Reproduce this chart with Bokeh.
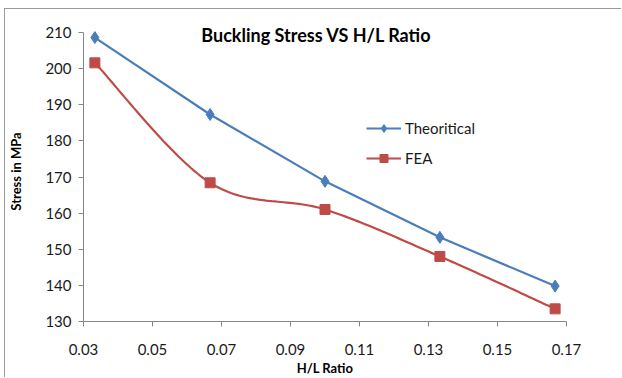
import numpy as np
from bokeh.plotting import figure
from bokeh.models import Range1d, Label, Legend, LegendItem, FixedTicker
from bokeh.embed import file_html
from bokeh.resources import INLINE

# ---- data ----
hl_ratio = [0.0333, 0.0667, 0.1000, 0.1333, 0.1667]
theoretical = [208.6, 187.3, 168.8, 153.3, 139.8]
fea = [201.6, 168.4, 161.0, 148.0, 133.5]
x_ticks = [0.03, 0.05, 0.07, 0.09, 0.11, 0.13, 0.15, 0.17]
y_ticks = [130, 140, 150, 160, 170, 180, 190, 200, 210]

title_text = "Buckling Stress VS H/L Ratio"
x_label = "H/L Ratio"
y_label = "Stress in MPa"

FONT = "Lato"
BLUE = "#4A7EBB"
RED = "#BE4B48"
AXIS = "#868686"

PX_PER_UNIT = 289 / 80.0  # vertical scale of the reference
FRAME_H = 300
Y_TOP = y_ticks[0] + FRAME_H / PX_PER_UNIT  # room above 210 for the title


def excel_smooth(xs, ys, n=40):
    """Excel-style smoothed line (Bezier with 1/6 tangents) through the points."""
    px = np.asarray(xs, float)
    py = np.asarray(ys, float)
    outx, outy = [], []
    m = len(px)
    for i in range(m - 1):
        i0 = max(i - 1, 0)
        i3 = min(i + 2, m - 1)
        b0 = np.array([px[i], py[i]])
        b3 = np.array([px[i + 1], py[i + 1]])
        b1 = b0 + (np.array([px[i + 1], py[i + 1]]) - np.array([px[i0], py[i0]])) / 6.0
        b2 = b3 - (np.array([px[i3], py[i3]]) - np.array([px[i], py[i]])) / 6.0
        t = np.linspace(0, 1, n)[:, None]
        pts = ((1 - t) ** 3) * b0 + 3 * ((1 - t) ** 2) * t * b1 + 3 * (1 - t) * t * t * b2 + t ** 3 * b3
        if i > 0:
            pts = pts[1:]
        outx.extend(pts[:, 0])
        outy.extend(pts[:, 1])
    return outx, outy


p = figure(
    width=617, height=369,
    output_backend="svg", toolbar_location=None,
    x_range=Range1d(x_ticks[0], x_ticks[-1]),
    y_range=Range1d(y_ticks[0], Y_TOP),
    min_border_left=76, min_border_right=56,
    min_border_top=12, min_border_bottom=57,
)
p.styles = {
    "margin-left": "4px",
    "margin-top": "8px",
    "border-top": "1px solid #9a9a9a",
    "border-left": "1px solid #9a9a9a",
}
p.outline_line_color = None
p.xgrid.visible = False
p.ygrid.visible = False
p.background_fill_color = "white"
p.border_fill_color = "white"

for ax in (p.xaxis[0], p.yaxis[0]):
    ax.axis_line_color = AXIS
    ax.major_tick_line_color = AXIS
    ax.major_tick_out = 5
    ax.major_tick_in = 0
    ax.minor_tick_line_color = None
    ax.major_label_text_font = FONT
    ax.major_label_text_font_size = "15px"
    ax.major_label_text_color = "#1a1a1a"
    ax.axis_label_text_font = FONT
    ax.axis_label_text_font_style = "bold"
    ax.axis_label_text_color = "#000000"

p.xaxis[0].ticker = FixedTicker(ticks=x_ticks)
p.yaxis[0].ticker = FixedTicker(ticks=y_ticks)
p.yaxis[0].bounds = (y_ticks[0], y_ticks[-1])
p.xaxis[0].major_label_overrides = {t: f"{t:.2f}" for t in x_ticks}
p.xaxis[0].axis_label = x_label
p.yaxis[0].axis_label = y_label
p.xaxis[0].axis_label_text_font_size = "13px"
p.yaxis[0].axis_label_text_font_size = "13px"
p.xaxis[0].major_label_standoff = 17
p.xaxis[0].axis_label_standoff = 2
p.yaxis[0].major_label_standoff = 7
p.yaxis[0].axis_label_standoff = 18

# Theoretical (straight line)
l1 = p.line(hl_ratio, theoretical, line_color=BLUE, line_width=2.2)
s1 = p.scatter(hl_ratio, theoretical, marker="diamond", size=12,
               fill_color=BLUE, line_color=BLUE)

# FEA (smoothed line)
sx, sy = excel_smooth(hl_ratio, fea)
l2 = p.line(sx, sy, line_color=RED, line_width=2.2)
s2 = p.scatter(hl_ratio, fea, marker="square", size=10,
               fill_color=RED, line_color=RED)

legend = Legend(
    items=[LegendItem(label="Theoritical", renderers=[l1, s1]),
           LegendItem(label="FEA", renderers=[l2, s2])],
    location=(283, 153),
    border_line_color=None, background_fill_alpha=0,
    padding=0, margin=0, spacing=10,
    glyph_width=35, glyph_height=20, label_standoff=4,
    label_text_font=FONT, label_text_font_size="15px",
    label_text_color="#1a1a1a",
)
p.add_layout(legend, "center")

title = Label(
    x=0.03 + (315 - 81) / 485 * 0.14, y=210 - (34 - 32) / PX_PER_UNIT,
    text=title_text, text_align="center", text_baseline="middle",
    text_font=FONT, text_font_style="bold", text_font_size="18px",
    text_color="#000000",
)
p.add_layout(title)

open("out.html", "w").write(file_html(p, INLINE))
